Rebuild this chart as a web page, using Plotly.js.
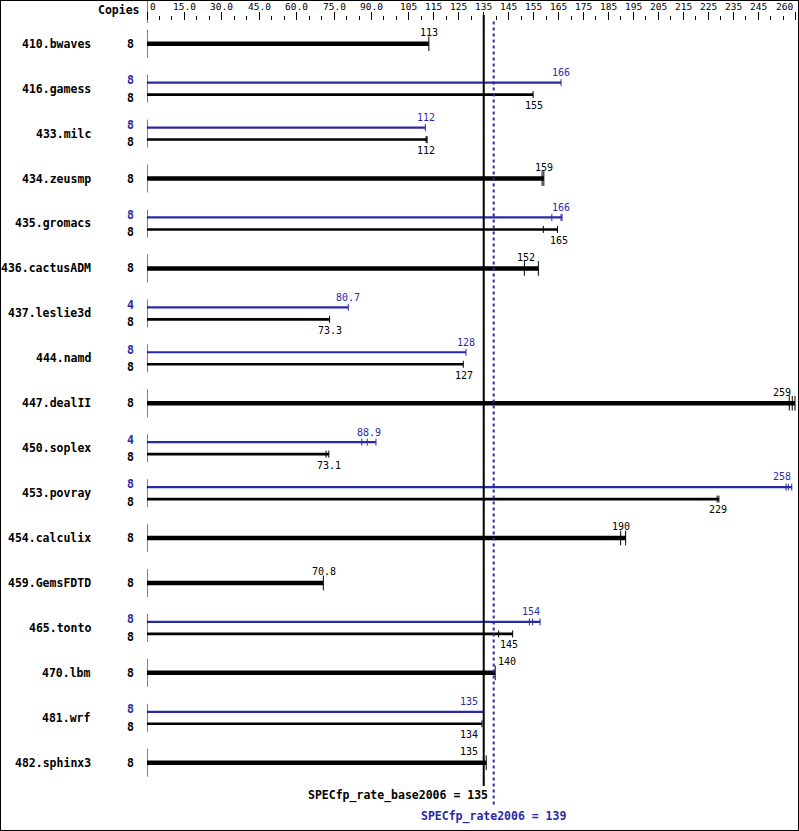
<!DOCTYPE html>
<html><head><meta charset="utf-8">
<script src="https://cdn.plot.ly/plotly-3.0.1.min.js"></script>
<style>
html,body{margin:0;padding:0;background:#fff;}
#wrap{width:797px;height:829px;border:1px solid #000;}
#chart{width:797px;height:829px;}
</style></head><body><div id="wrap"><div id="chart"></div></div>
<script>
// ---------------- data ----------------
const benchmarks = ['410.bwaves','416.gamess','433.milc','434.zeusmp','435.gromacs','436.cactusADM',
  '437.leslie3d','444.namd','447.dealII','450.soplex','453.povray','454.calculix','459.GemsFDTD',
  '465.tonto','470.lbm','481.wrf','482.sphinx3'];
const baseCopies = [8,8,8,8,8,8,8,8,8,8,8,8,8,8,8,8,8];
const peakCopies = [null,8,8,null,8,null,4,8,null,4,8,null,null,8,null,8,null];
const baseScore = ['113','155','112','159','165','152','73.3','127','259','73.1','229','190','70.8','145','140','134','135'];
const peakScore = [null,'166','112',null,'166',null,'80.7','128',null,'88.9','258',null,null,'154',null,'135',null];
const baseRuns = [[113],[154.8],[111.9,112.3],[158.4,159.1],[158.9,164.6],[151.3,156.9],[73.2],[126.8],
  [257.5,258.7,259.8],[71.8,72.9],[228.6,229.3],[189.9,191.9],[70.7],[141.0,146.6],[139.6],[134.3],[134.9,136.0]];
const peakRuns = [null,[166.0],[111.6],null,[162.3,166.0,166.4],null,[80.7],[127.9],null,[86.1,88.3,91.8],
  [256.2,257.1,258.5],null,null,[153.3,154.6,157.6],null,[134.9],null];
const baseOverall = 135;
const peakOverall = 139;
const tickValues = [0,15,30,45,60,75,90,105,115,125,135,145,155,165,175,185,195,205,215,225,235,245,260];
const tickLabels = ['0','15.0','30.0','45.0','60.0','75.0','90.0','105','115','125','135','145','155','165','175','185','195','205','215','225','235','245','260'];

// ---------------- geometry ----------------
const FONT = 'DejaVu Sans Mono, Liberation Mono, monospace';
const BLUE = '#2a2aa8';
const L = 146, T = 20, W = 651, H = 809;
const xMax = 261, yTop = -0.505, yBot = 17.497;
const rowPx = H / (yBot - yTop);
const px = v => L + v * W / xMax;            // div x of data value
const paperX = dx => (dx - L) / W;            // div x -> paper
const paperY = dy => (T + H - dy) / H;        // div y -> paper
const u = p => p / rowPx;                    // px -> y units
const off = u(6);

const hasPeak = i => peakCopies[i] !== null;
const traces = [];
const singleIdx = benchmarks.map((b,i)=>i).filter(i=>!hasPeak(i));
const dualIdx = benchmarks.map((b,i)=>i).filter(i=>hasPeak(i));
traces.push({type:'bar', orientation:'h', y:singleIdx, x:singleIdx.map(i=>Math.max(...baseRuns[i])),
  width:u(4.5), marker:{color:'#000', line:{width:0}}, hoverinfo:'skip'});
traces.push({type:'bar', orientation:'h', y:dualIdx.map(i=>i+off), x:dualIdx.map(i=>Math.max(...baseRuns[i])),
  width:u(2.6), marker:{color:'#000', line:{width:0}}, hoverinfo:'skip'});
traces.push({type:'bar', orientation:'h', y:dualIdx.map(i=>i-off), x:dualIdx.map(i=>Math.max(...peakRuns[i])),
  width:u(2.2), marker:{color:BLUE, line:{width:0}}, hoverinfo:'skip'});
function runTicks(idx, runs, dy, color, size){
  const xs=[], ys=[];
  idx.forEach(i=>runs[i].forEach(r=>{xs.push(r); ys.push(i+dy);}));
  traces.push({type:'scatter', mode:'markers', x:xs, y:ys, cliponaxis:false, hoverinfo:'skip',
    marker:{symbol:'line-ns-open', size:size, color:color, line:{color:color, width:1}}});
}
runTicks(singleIdx, baseRuns, 0, '#000', 10.5);
runTicks(dualIdx, baseRuns, off, '#000', 5);
runTicks(dualIdx, peakRuns, -off, BLUE, 5);

// ---------------- annotations ----------------
const ann = [];
const lineLo = px(baseOverall) - 2, lineHi = px(peakOverall) + 2;
function valueLabel(i, text, dyShift, color){
  const v = parseFloat(text);
  const w = text.length * 6.02;
  const cx = px(v);
  let a = {x:v, xref:'x', y:i, yref:'y', yshift:dyShift, yanchor:'middle', text:text, showarrow:false,
    font:{family:FONT, size:10, color:color}, xanchor:'center'};
  if (cx + w/2 > L + W - 4) { a.xanchor='right'; a.xshift = (L + W - 5) - cx; }
  else if (cx + w/2 > lineLo && cx - w/2 < lineHi) {
    if (v < (baseOverall+peakOverall)/2) { a.xanchor='right'; a.xshift = (px(baseOverall) - 4) - cx; }
    else { a.xanchor='left'; a.xshift = 0; }
  }
  ann.push(a);
}
const boldFont = c => ({family:FONT, size:11.5, color:c, weight:'bold'});
benchmarks.forEach((b,i)=>{
  ann.push({x:paperX(92), xref:'paper', y:i, yref:'y', text:b, showarrow:false, xanchor:'right', yanchor:'middle',
    font:boldFont('#000')});
  if (hasPeak(i)) {
    ann.push({x:paperX(129.7), xref:'paper', y:i, yref:'y', yshift:8.6, text:String(peakCopies[i]), showarrow:false,
      xanchor:'center', yanchor:'middle', font:boldFont(BLUE)});
    ann.push({x:paperX(129.7), xref:'paper', y:i, yref:'y', yshift:-8.9, text:String(baseCopies[i]), showarrow:false,
      xanchor:'center', yanchor:'middle', font:boldFont('#000')});
    valueLabel(i, peakScore[i], 16.1, BLUE);
    valueLabel(i, baseScore[i], -16.9, '#000');
  } else {
    ann.push({x:paperX(129.7), xref:'paper', y:i, yref:'y', text:String(baseCopies[i]), showarrow:false,
      xanchor:'center', yanchor:'middle', font:boldFont('#000')});
    valueLabel(i, baseScore[i], 11.2, '#000');
  }
});
// header
ann.push({x:paperX(141), xref:'paper', y:paperY(8.5), yref:'paper', text:'Copies', showarrow:false,
  xanchor:'right', yanchor:'middle', font:boldFont('#000')});
// top axis labels
tickValues.forEach((t,k)=>{
  const a = {x:t, xref:'x', y:paperY(5.8), yref:'paper', text:tickLabels[k], showarrow:false,
    xanchor:'center', yanchor:'middle', font:{family:FONT, size:9.5, color:'#000'}};
  if (k === 0) { a.xanchor = 'left'; a.xshift = 1; }
  if (k === tickValues.length-1) { a.xanchor = 'right'; a.xshift = -1; }
  ann.push(a);
});
// overall scores
ann.push({x:baseOverall, xref:'x', xshift:6, y:paperY(794.5), yref:'paper', xanchor:'right', yanchor:'middle', showarrow:false,
  text:'SPECfp_rate_base2006 = ' + baseOverall, font:boldFont('#000')});
ann.push({x:peakOverall, xref:'x', y:paperY(815.5), yref:'paper', xanchor:'center', yanchor:'middle', showarrow:false,
  text:'SPECfp_rate2006 = ' + peakOverall, font:boldFont(BLUE)});

// ---------------- shapes ----------------
const shapes = [];
shapes.push({type:'line', xref:'x', x0:0, x1:0, yref:'paper', y0:paperY(0), y1:paperY(22), line:{color:'#000', width:1}});
benchmarks.forEach((b,i)=>{
  shapes.push({type:'line', xref:'x', x0:0, x1:0, yref:'y', y0:i-u(14), y1:i+u(14), line:{color:'#000', width:1}});
});
shapes.push({type:'line', layer:'above', xref:'x', x0:baseOverall, x1:baseOverall, yref:'paper', y0:paperY(14), y1:paperY(785),
  line:{color:'#000', width:2}});
shapes.push({type:'line', layer:'above', xref:'x', x0:peakOverall, x1:peakOverall, yref:'paper', y0:paperY(20.5), y1:paperY(806),
  line:{color:BLUE, width:2, dash:'dot'}});

const layout = {
  width:797, height:829, margin:{l:L, r:797-L-W, t:T, b:829-T-H},
  paper_bgcolor:'#fff', plot_bgcolor:'#fff', showlegend:false, barmode:'overlay',
  xaxis:{range:[0,xMax], side:'top', tickmode:'array', tickvals:tickValues, showticklabels:false,
    ticks:'outside', ticklen:8, tickwidth:1, tickcolor:'#000', showline:false, showgrid:false, zeroline:false,
    fixedrange:true,
    minor:{tickmode:'linear', tick0:0, dtick:5, ticks:'outside', ticklen:4, tickwidth:1, tickcolor:'#000', showgrid:false}},
  yaxis:{range:[yBot, yTop], showticklabels:false, ticks:'', showgrid:false, zeroline:false, showline:false, fixedrange:true},
  annotations:ann, shapes:shapes
};
Plotly.newPlot('chart', traces, layout, {staticPlot:true, displayModeBar:false});
</script></body></html>
